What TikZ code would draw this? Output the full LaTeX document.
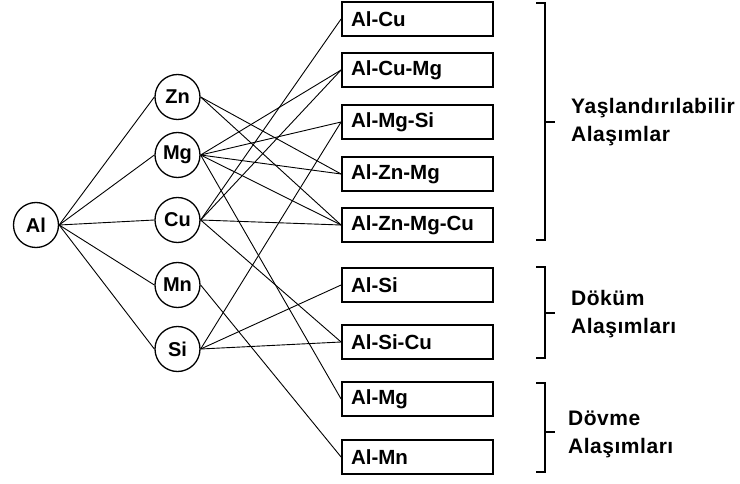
\documentclass[tikz,border=0pt]{standalone}
\usepackage{fontspec}
\setmainfont{Liberation Sans}
\newfontfamily\lblfont[LetterSpace=2.5]{Liberation Sans}
\begin{document}
\begin{tikzpicture}[x=1pt,y=-1pt,
  elem/.style={circle,draw,line width=1.3pt,minimum size=45pt,inner sep=0pt,font=\bfseries\fontsize{20}{24}\selectfont},
  alloy/.style={draw,line width=1.8pt,text width=133pt,inner xsep=9pt,inner ysep=0pt,minimum height=34pt,align=left,font=\bfseries\fontsize{20.5}{24}\selectfont},
  link/.style={line width=0.9pt},
  brk/.style={line width=1.2pt},
  lbl/.style={anchor=west,align=left,inner sep=0pt,font=\lblfont\bfseries\fontsize{21}{28}\selectfont}]
\useasboundingbox (0,0) rectangle (740,484);

% element nodes
\node[elem] (Al) at (36,225) {Al};
\node[elem] (Zn) at (177.5,97) {Zn};
\node[elem] (Mg) at (177.5,155) {Mg};
\node[elem] (Cu) at (177.5,220) {Cu};
\node[elem] (Mn) at (177.5,285) {Mn};
\node[elem] (Si) at (177.5,349) {Si};

% alloy boxes
\node[alloy] (AlCu) at (417.5,19) {Al-Cu};
\node[alloy] (AlCuMg) at (417.5,70) {Al-Cu-Mg};
\node[alloy] (AlMgSi) at (417.5,122) {Al-Mg-Si};
\node[alloy] (AlZnMg) at (417.5,174) {Al-Zn-Mg};
\node[alloy] (AlZnMgCu) at (417.5,225) {Al-Zn-Mg-Cu};
\node[alloy] (AlSi) at (417.5,285) {Al-Si};
\node[alloy] (AlSiCu) at (417.5,342) {Al-Si-Cu};
\node[alloy] (AlMg) at (417.5,399) {Al-Mg};
\node[alloy] (AlMn) at (417.5,457) {Al-Mn};

% Al to elements
\foreach \e in {Zn,Mg,Cu,Mn,Si}
  \draw[link] (Al.east) -- (\e.west);

% elements to alloys
\draw[link] (Zn.east) -- (AlZnMg.west);
\draw[link] (Zn.east) -- (AlZnMgCu.west);
\draw[link] (Mg.east) -- (AlCuMg.west);
\draw[link] (Mg.east) -- (AlMgSi.west);
\draw[link] (Mg.east) -- (AlZnMg.west);
\draw[link] (Mg.east) -- (AlZnMgCu.west);
\draw[link] (Mg.east) -- (AlMg.west);
\draw[link] (Cu.east) -- (AlCu.west);
\draw[link] (Cu.east) -- (AlCuMg.west);
\draw[link] (Cu.east) -- (AlZnMgCu.west);
\draw[link] (Cu.east) -- (AlSiCu.west);
\draw[link] (Mn.east) -- (AlMn.west);
\draw[link] (Si.east) -- (AlMgSi.west);
\draw[link] (Si.east) -- (AlSi.west);
\draw[link] (Si.east) -- (AlSiCu.west);

% brackets
\draw[brk] (536,3) -- (545,3) -- (545,240) -- (536,240);
\draw[brk] (545,122) -- (555,122);
\draw[brk] (536,267) -- (545,267) -- (545,358) -- (536,358);
\draw[brk] (545,313) -- (555,313);
\draw[brk] (536,383) -- (545,383) -- (545,472) -- (536,472);
\draw[brk] (545,432) -- (555,432);

% group labels
\node[lbl] (L1) at (571,122) {Yaşlandırılabilir\\Alaşımlar};
\node[lbl] (L2) at (571,314) {Döküm\\Alaşımları};
\node[lbl] (L3) at (568,434) {Dövme\\Alaşımları};
\end{tikzpicture}
\end{document}
